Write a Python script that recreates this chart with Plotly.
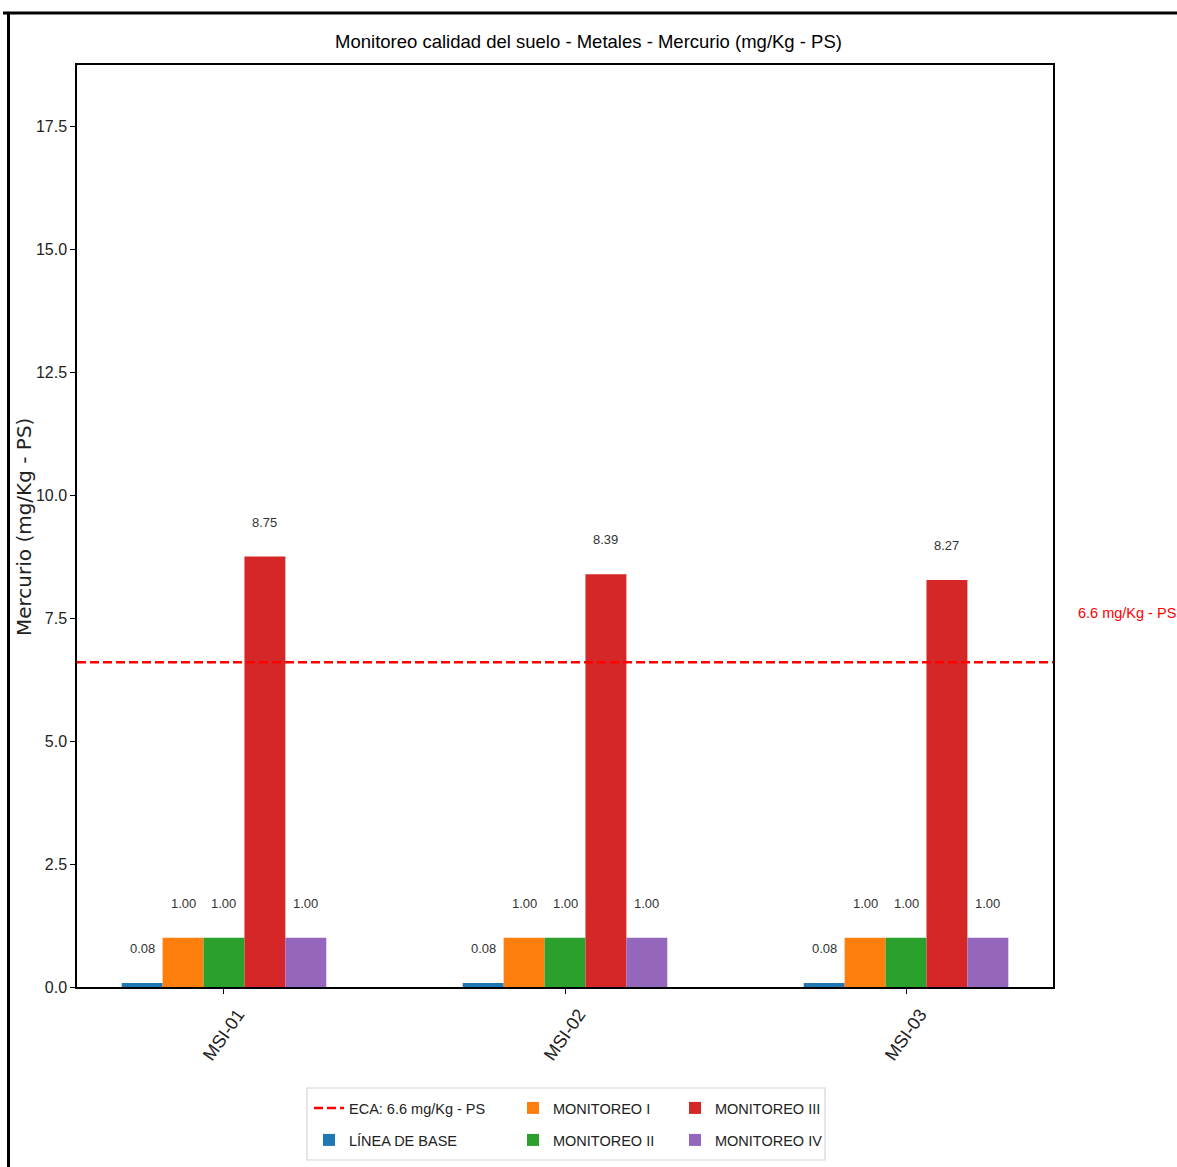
import plotly.graph_objects as go

# ---- data ----
stations = ["MSI-01", "MSI-02", "MSI-03"]
series_names = ["LÍNEA DE BASE", "MONITOREO I", "MONITOREO II", "MONITOREO III", "MONITOREO IV"]
linea_base = [0.08, 0.08, 0.08]
monitoreo_1 = [1.00, 1.00, 1.00]
monitoreo_2 = [1.00, 1.00, 1.00]
monitoreo_3 = [8.75, 8.39, 8.27]
monitoreo_4 = [1.00, 1.00, 1.00]
eca_value = 6.6
eca_label = "ECA: 6.6 mg/Kg - PS"
eca_text = "6.6 mg/Kg - PS"
title_text = "Monitoreo calidad del suelo - Metales - Mercurio (mg/Kg - PS)"
y_title = "Mercurio (mg/Kg - PS)"
y_ticks = [0.0, 2.5, 5.0, 7.5, 10.0, 12.5, 15.0, 17.5]

colors = ["#1f77b4", "#ff7f0e", "#2ca02c", "#d62728", "#9467bd"]
series_values = [linea_base, monitoreo_1, monitoreo_2, monitoreo_3, monitoreo_4]

NARROW = "Liberation Sans, Arial, sans-serif"

W, H = 1177, 1167
L, R, T, B = 77, 124, 65, 180
PW, PH = W - L - R, H - T - B


def px_x(p):
    """image x pixel -> paper x"""
    return (p - L) / PW


def px_y(q):
    """image y pixel -> paper y"""
    return (H - B - q) / PH


# legend layout: (legend id, column left px, row center px)
legend_pos = {
    "legend": (309, 1108),   # ECA
    "legend2": (309, 1140),  # LINEA DE BASE
    "legend3": (513, 1108),  # MON I
    "legend4": (513, 1140),  # MON II
    "legend5": (675, 1108),  # MON III
    "legend6": (675, 1140),  # MON IV
}
series_legends = ["legend2", "legend3", "legend4", "legend5", "legend6"]

fig = go.Figure()

bar_width = 0.12
n = len(series_names)
for i, (name, vals, col) in enumerate(zip(series_names, series_values, colors)):
    fig.add_trace(go.Bar(
        x=stations, y=vals, name=name, marker=dict(color=col, line=dict(width=0)),
        legend=series_legends[i], showlegend=True,
    ))
    offset = (i - (n - 1) / 2) * bar_width
    for j, v in enumerate(vals):
        fig.add_annotation(
            x=j + offset, y=v + 0.7, xref="x", yref="y", text=f"{v:.2f}",
            showarrow=False, font=dict(family=NARROW, size=13, color="#333333"),
            xanchor="center", yanchor="middle",
        )

# ECA line
fig.add_shape(
    type="line", xref="x domain", yref="y", x0=0, x1=1, y0=eca_value, y1=eca_value,
    line=dict(color="red", width=2.5, dash="9px,4px"),
    showlegend=True, name=eca_label, legend="legend", layer="above",
)
fig.add_annotation(
    xref="paper", yref="y", x=px_x(1076), y=eca_value + 1.0, text=eca_text,
    showarrow=False, xanchor="left", yanchor="middle",
    font=dict(family=NARROW, size=14.5, color="red"),
)

# y-axis title
fig.add_annotation(
    xref="paper", yref="paper", x=px_x(24), y=px_y(527), text=y_title, textangle=-90,
    showarrow=False, xanchor="center", yanchor="middle",
    font=dict(family="DejaVu Sans", size=20, color="#222222"),
)

# legend frame
fig.add_shape(
    type="rect", xref="paper", yref="paper",
    x0=px_x(307), x1=px_x(825), y0=px_y(1160), y1=px_y(1088),
    line=dict(color="#d5d5d5", width=1.2), fillcolor="rgba(0,0,0,0)", layer="below",
)

# figure frame lines (top and left)
fig.add_shape(type="line", xref="paper", yref="paper",
              x0=px_x(3), x1=px_x(W), y0=px_y(13), y1=px_y(13),
              line=dict(color="black", width=3))
fig.add_shape(type="line", xref="paper", yref="paper",
              x0=px_x(8.5), x1=px_x(8.5), y0=px_y(12), y1=px_y(H),
              line=dict(color="black", width=3))

legend_layouts = {}
for lid, (xp, yp) in legend_pos.items():
    legend_layouts[lid] = dict(
        x=px_x(xp), y=px_y(yp), xanchor="left", yanchor="middle",
        xref="paper", yref="paper", orientation="v",
        font=dict(family=NARROW, size=14.5, color="#222222"),
        bgcolor="rgba(0,0,0,0)", borderwidth=0,
    )

fig.update_layout(
    width=W, height=H,
    margin=dict(l=L, r=R, t=T, b=B, autoexpand=False),
    paper_bgcolor="white", plot_bgcolor="white",
    title=dict(text=title_text, x=px_x(565), xanchor="center", y=1 - 42 / H, yanchor="middle",
               font=dict(family=NARROW, size=18.5, color="black")),
    barmode="group", bargap=0.4, bargroupgap=0.0,
    xaxis=dict(
        type="category", range=[-0.431, 2.431], showline=True, linecolor="black", linewidth=1.5,
        mirror=True, ticks="outside", ticklen=5, tickcolor="black", tickangle=-55,
        ticklabelshift=14, ticklabelstandoff=3,
        tickfont=dict(family=NARROW, size=18, color="#222222"), showgrid=False, automargin=False,
    ),
    yaxis=dict(
        range=[0, 18.74], tickvals=y_ticks, ticktext=[f"{v:.1f}" for v in y_ticks],
        showline=True, linecolor="black", linewidth=1.5, mirror=True, ticks="outside",
        ticklen=5, tickcolor="black", tickfont=dict(family=NARROW, size=16, color="#222222"),
        showgrid=False, zeroline=False, automargin=False,
    ),
    **legend_layouts,
)

fig.write_html(
    "out.html",
    config={"displayModeBar": False},
    post_script="document.body.style.margin='0px';document.body.style.overflow='hidden';",
)
